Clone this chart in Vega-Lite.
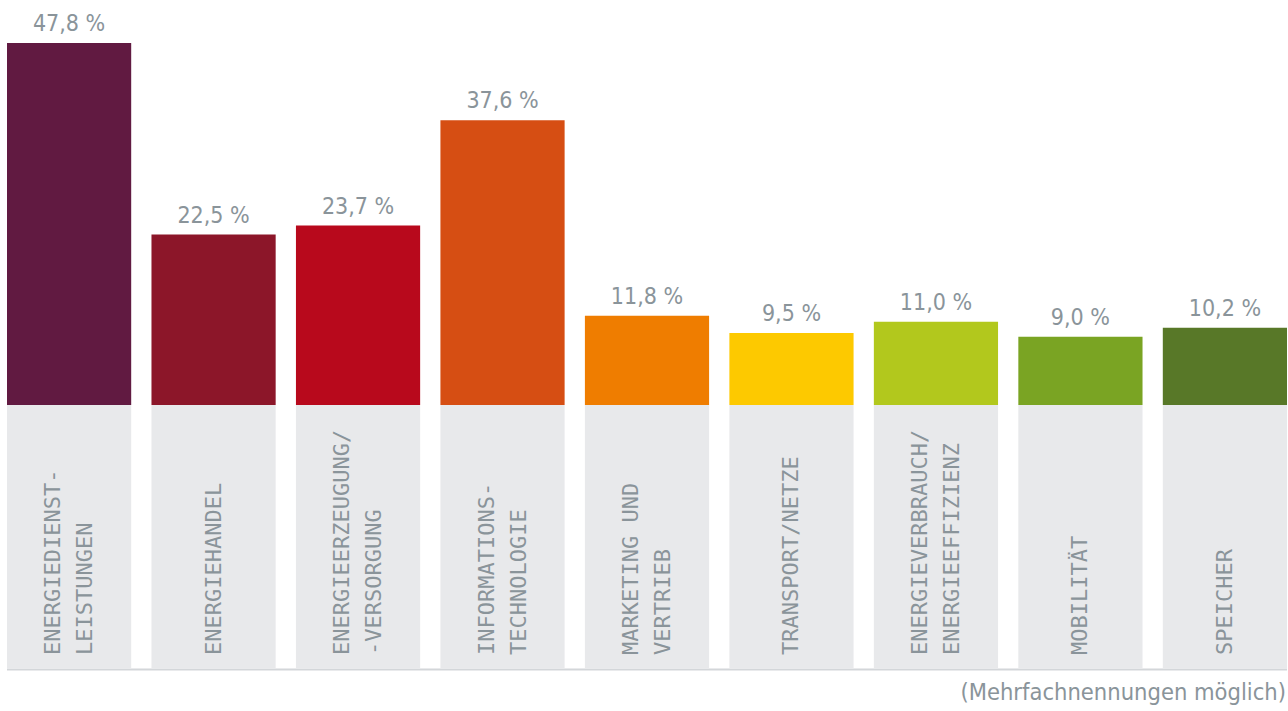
{
  "$schema": "https://vega.github.io/schema/vega-lite/v6.json",
  "autosize": "none",
  "width": 1280,
  "height": 711,
  "padding": {"left": 7, "right": 1, "top": 0, "bottom": 0},
  "background": "#ffffff",
  "config": {"view": {"stroke": null}},
  "data": {
    "values": [
      {"cat": "ENERGIEDIENST-\nLEISTUNGEN", "value": 47.8, "label": "47,8 %", "color": "#611a41"},
      {"cat": "ENERGIEHANDEL", "value": 22.5, "label": "22,5 %", "color": "#8c1629"},
      {"cat": "ENERGIEERZEUGUNG/\n-VERSORGUNG", "value": 23.7, "label": "23,7 %", "color": "#b8091c"},
      {"cat": "INFORMATIONS-\nTECHNOLOGIE", "value": 37.6, "label": "37,6 %", "color": "#d64e13"},
      {"cat": "MARKETING UND\nVERTRIEB", "value": 11.8, "label": "11,8 %", "color": "#ef7d00"},
      {"cat": "TRANSPORT/NETZE", "value": 9.5, "label": "9,5 %", "color": "#fdc900"},
      {"cat": "ENERGIEVERBRAUCH/\nENERGIEEFFIZIENZ", "value": 11.0, "label": "11,0 %", "color": "#b2c81d"},
      {"cat": "MOBILITÄT", "value": 9.0, "label": "9,0 %", "color": "#7aa423"},
      {"cat": "SPEICHER", "value": 10.2, "label": "10,2 %", "color": "#587828"}
    ]
  },
  "encoding": {
    "x": {
      "field": "cat",
      "type": "nominal",
      "sort": null,
      "axis": null,
      "scale": {"paddingInner": 0.1404, "paddingOuter": 0}
    }
  },
  "layer": [
    {
      "mark": {"type": "bar", "color": "#e8e9eb"},
      "encoding": {
        "y": {"datum": 0, "type": "quantitative", "scale": {"domain": [-40.41, 53.48], "nice": false, "zero": false}, "axis": null},
        "y2": {"datum": -34.73}
      }
    },
    {
      "mark": {"type": "bar"},
      "encoding": {
        "y": {"field": "value", "type": "quantitative"},
        "y2": {"datum": 0},
        "color": {"field": "color", "type": "nominal", "scale": null, "legend": null}
      }
    },
    {
      "mark": {"type": "text", "font": "DejaVu Sans Condensed, Liberation Sans Narrow, sans-serif", "fontSize": 23, "color": "#8a949a", "baseline": "alphabetic", "align": "center", "dy": -12},
      "encoding": {
        "y": {"field": "value", "type": "quantitative"},
        "text": {"field": "label"}
      }
    },
    {
      "transform": [{"filter": "indexof(datum.cat, '\\n') < 0"}],
      "mark": {"type": "text", "font": "DejaVu Sans Mono", "fontSize": 22, "color": "#8a949a", "angle": 270, "align": "left", "baseline": "middle", "lineBreak": "\n", "lineHeight": 32},
      "encoding": {
        "y": {"datum": -33.0},
        "text": {"field": "cat"}
      }
    },
    {
      "transform": [{"filter": "indexof(datum.cat, '\\n') >= 0"}],
      "mark": {"type": "text", "font": "DejaVu Sans Mono", "fontSize": 22, "color": "#8a949a", "angle": 270, "align": "left", "baseline": "middle", "lineBreak": "\n", "lineHeight": 32, "dy": -16},
      "encoding": {
        "y": {"datum": -33.0},
        "text": {"field": "cat"}
      }
    },
    {
      "data": {"values": [{"y": 0}]},
      "mark": {"type": "rule", "color": "#d3d6d9", "strokeWidth": 2},
      "encoding": {"x": null, "y": {"datum": -34.93}}
    },
    {
      "data": {"values": [{"note": "(Mehrfachnennungen möglich)"}]},
      "mark": {"type": "text", "font": "DejaVu Sans Condensed, Liberation Sans Narrow, sans-serif", "fontSize": 23.5, "color": "#8a949a", "align": "right", "baseline": "alphabetic", "dx": -1},
      "encoding": {
        "x": {"datum": "SPEICHER", "bandPosition": 1},
        "y": {"datum": -38.9},
        "text": {"field": "note"}
      }
    }
  ]
}
